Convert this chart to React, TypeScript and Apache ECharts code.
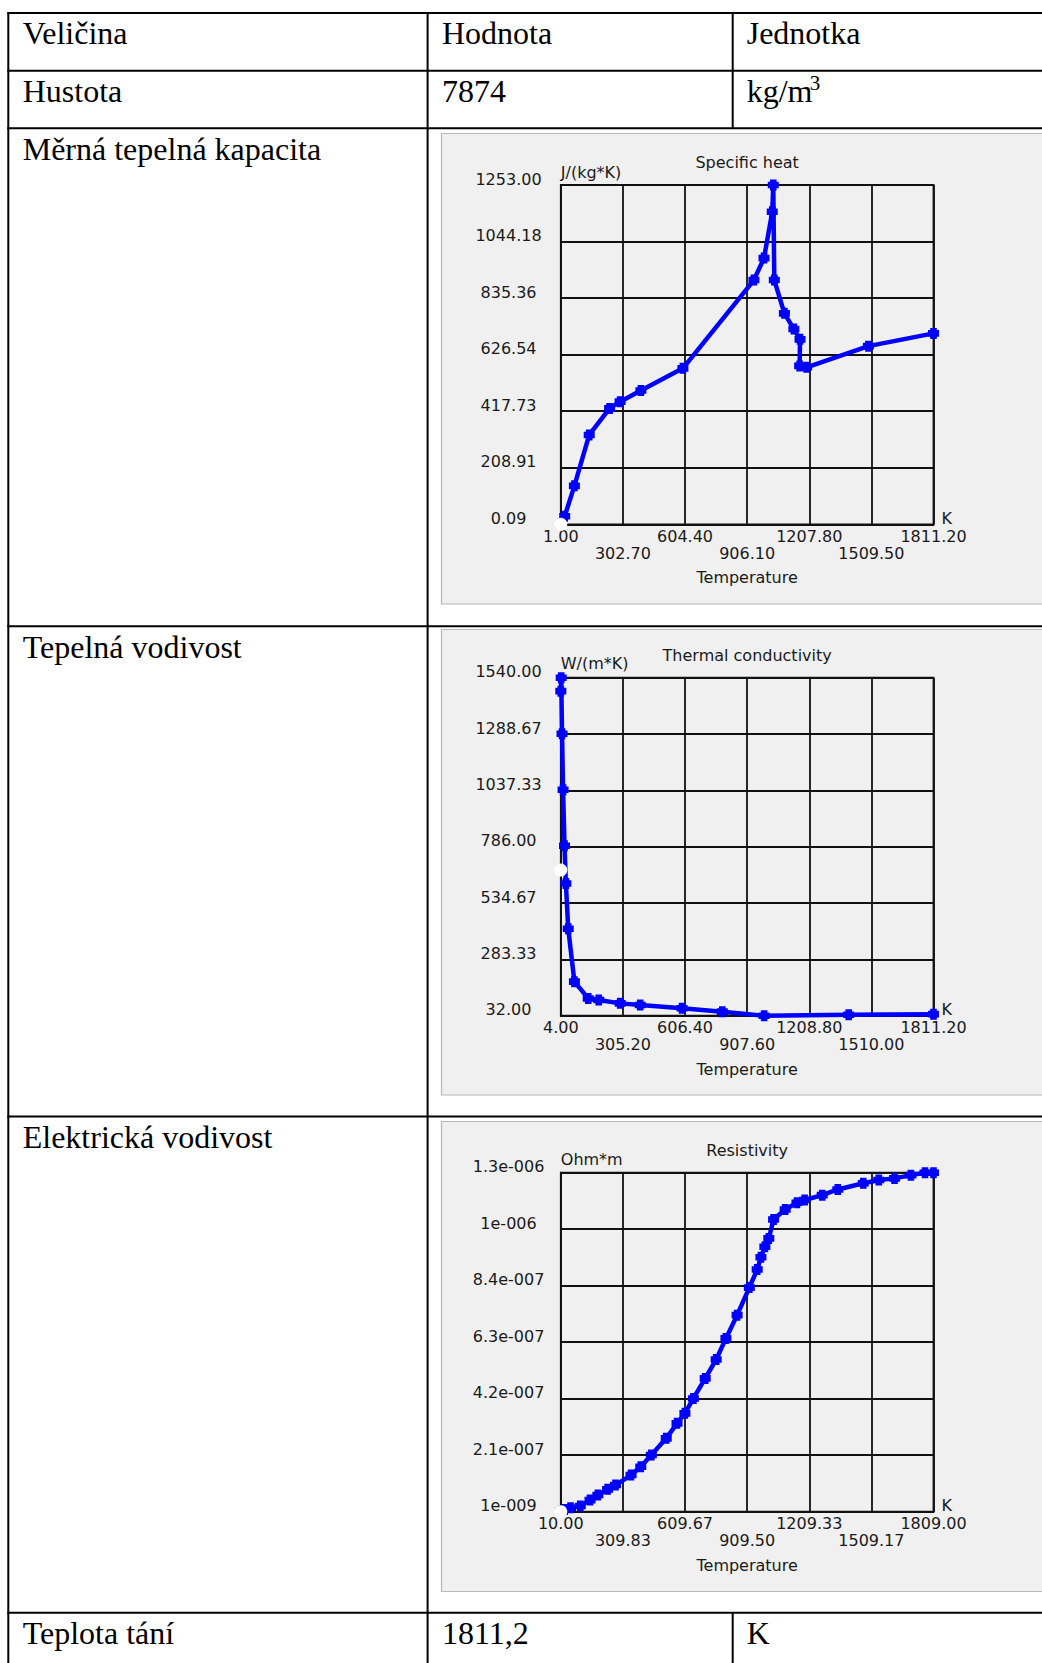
import React, { useEffect, useRef } from 'react';
import * as echarts from 'echarts';

// ---------- Table texts ----------
const tableHeader = ['Veličina', 'Hodnota', 'Jednotka'];
const rowLabels = ['Hustota', 'Měrná tepelná kapacita', 'Tepelná vodivost', 'Elektrická vodivost', 'Teplota tání'];
const densityValue = '7874';
const densityUnit = 'kg/m';
const densityUnitSup = '3';
const meltingValue = '1811,2';
const meltingUnit = 'K';

// ---------- Specific heat ----------
const cpTemperature = [1, 20, 67, 139, 238, 289, 390, 594, 939, 988, 1028, 1033, 1038, 1087, 1133, 1163, 1161, 1195, 1495, 1811.2];
const cpValues = [1, 30, 142, 330, 428, 453, 494, 576, 902, 983, 1154, 1253, 902, 779, 721, 683, 585, 580, 658, 705];
const cpXTicks = [1, 302.7, 604.4, 906.1, 1207.8, 1509.5, 1811.2];
const cpXLabels = ['1.00', '302.70', '604.40', '906.10', '1207.80', '1509.50', '1811.20'];
const cpYTicks = [0.09, 208.91, 417.73, 626.54, 835.36, 1044.18, 1253];
const cpYLabels = ['0.09', '208.91', '417.73', '626.54', '835.36', '1044.18', '1253.00'];
const cpMarker = [1, 0.09];

// ---------- Thermal conductivity ----------
const kTemperature = [4, 6, 10, 15, 22, 28.6, 40, 70, 137, 188, 292, 389, 592, 787, 990, 1400, 1811.2];
const kValues = [1480, 1540, 1290, 1040, 790, 622, 420, 184, 109, 102, 87, 80, 65, 50, 32, 36, 39];
const kXTicks = [4, 305.2, 606.4, 907.6, 1208.8, 1510, 1811.2];
const kXLabels = ['4.00', '305.20', '606.40', '907.60', '1208.80', '1510.00', '1811.20'];
const kYTicks = [32, 283.33, 534.67, 786, 1037.33, 1288.67, 1540];
const kYLabels = ['32.00', '283.33', '534.67', '786.00', '1037.33', '1288.67', '1540.00'];
const kMarker = [4, 682];

// ---------- Resistivity ----------
const rhoTemperature = [10, 29, 57, 104, 151, 189, 236, 274, 349, 396, 447, 519, 571, 609, 650, 707, 760, 807, 861, 920, 958, 976, 995, 1014, 1037, 1093, 1150, 1187, 1272, 1347, 1470, 1545, 1621, 1700, 1768, 1809];
const rhoValues = [3e-9, 9.6e-9, 1.58e-8, 2.2e-8, 4.4e-8, 6.3e-8, 8.36e-8, 9.96e-8, 1.366e-7, 1.675e-7, 2.106e-7, 2.723e-7, 3.278e-7, 3.648e-7, 4.2e-7, 4.94e-7, 5.64e-7, 6.42e-7, 7.28e-7, 8.3e-7, 8.97e-7, 9.42e-7, 9.81e-7, 1.012e-6, 1.082e-6, 1.119e-6, 1.144e-6, 1.154e-6, 1.172e-6, 1.193e-6, 1.216e-6, 1.228e-6, 1.234e-6, 1.246e-6, 1.255e-6, 1.255e-6];
const rhoXTicks = [10, 309.83, 609.67, 909.5, 1209.33, 1509.17, 1809];
const rhoXLabels = ['10.00', '309.83', '609.67', '909.50', '1209.33', '1509.17', '1809.00'];
const rhoYTicks = [1e-9, 2.1e-7, 4.19e-7, 6.28e-7, 8.37e-7, 1.046e-6, 1.255e-6];
const rhoYLabels = ['1e-009', '2.1e-007', '4.2e-007', '6.3e-007', '8.4e-007', '1e-006', '1.3e-006'];
const rhoMarker = [10, 1e-9];

const chartTitles = ['Specific heat', 'Thermal conductivity', 'Resistivity'];
const chartUnits = ['J/(kg*K)', 'W/(m*K)', 'Ohm*m'];
const xName = 'Temperature';
const xUnit = 'K';

// ---------- Layout (positions only) ----------
const PLOT_LEFT = 560.8;
const PLOT_W = 372.7;
const LAYOUT = [
  { plotTop: 185, plotH: 339.3, panelTop: 133.5, panelH: 470.5, titleY: 162, unitGap: 12.5 },
  { plotTop: 677.7, plotH: 338, panelTop: 629.5, panelH: 465.5, titleY: 655, unitGap: 14 },
  { plotTop: 1172.7, plotH: 339, panelTop: 1121.5, panelH: 470, titleY: 1150.7, unitGap: 13.5 },
];
const H_LINES = [13, 70.7, 128.3, 626.3, 1116.6, 1612.8];
const COL1_X = 8.3;
const COL2_X = 427.6;
const COL3_X = 732.7;
const ROW_BASELINES = [44, 101.7, 159.3, 657.3, 1147.5, 1643.7];
const LABEL_ROW_H = 17.5;

const SANS = '"DejaVu Sans", Verdana, sans-serif';
const SERIF = '"Liberation Serif", "Times New Roman", serif';
const CHART_FONT_SIZE = 16;
const LABEL_COLOR = '#1a1a1a';
const GRID_COLOR = '#111';
const LINE_BLUE = '#0000ff';
const MARKER = 'path://M2,0H8V2H10V8H8V10H2V8H0V2H2Z';

function nearestIndex(ticks: number[], v: number) {
  let best = 0;
  for (let i = 1; i < ticks.length; i++) {
    if (Math.abs(ticks[i] - v) < Math.abs(ticks[best] - v)) best = i;
  }
  return best;
}

const chartData = [
  { xs: cpTemperature, ys: cpValues, xTicks: cpXTicks, xLabels: cpXLabels, yTicks: cpYTicks, yLabels: cpYLabels, marker: cpMarker },
  { xs: kTemperature, ys: kValues, xTicks: kXTicks, xLabels: kXLabels, yTicks: kYTicks, yLabels: kYLabels, marker: kMarker },
  { xs: rhoTemperature, ys: rhoValues, xTicks: rhoXTicks, xLabels: rhoXLabels, yTicks: rhoYTicks, yLabels: rhoYLabels, marker: rhoMarker },
];

function buildOption() {
  const grid: any[] = [];
  const xAxis: any[] = [];
  const yAxis: any[] = [];
  const series: any[] = [];
  const title: any[] = [];
  const graphic: any[] = [];

  // gray panels
  LAYOUT.forEach((l) => {
    graphic.push({
      type: 'rect',
      z: -10,
      shape: { x: 441.5, y: l.panelTop, width: 640, height: l.panelH },
      style: { fill: '#f0f0f0', stroke: '#b8b8b8', lineWidth: 1.2 },
    });
  });

  // table lines
  H_LINES.forEach((y) => {
    graphic.push({ type: 'line', z: 5, shape: { x1: 7.3, y1: y, x2: 1042, y2: y }, style: { stroke: '#000', lineWidth: 2 } });
  });
  graphic.push({ type: 'line', z: 5, shape: { x1: COL1_X, y1: 12, x2: COL1_X, y2: 1663 }, style: { stroke: '#000', lineWidth: 2 } });
  graphic.push({ type: 'line', z: 5, shape: { x1: COL2_X, y1: 12, x2: COL2_X, y2: 1663 }, style: { stroke: '#000', lineWidth: 2 } });
  graphic.push({ type: 'line', z: 5, shape: { x1: COL3_X, y1: 12, x2: COL3_X, y2: H_LINES[2] }, style: { stroke: '#000', lineWidth: 2 } });
  graphic.push({ type: 'line', z: 5, shape: { x1: COL3_X, y1: H_LINES[5], x2: COL3_X, y2: 1663 }, style: { stroke: '#000', lineWidth: 2 } });

  const serifText = (text: string, x: number, baseline: number, size = 32) => ({
    type: 'text',
    z: 5,
    style: {
      text,
      x,
      y: baseline - size * 0.3375,
      font: `${size}px ${SERIF}`,
      fill: '#000',
      align: 'left',
      verticalAlign: 'middle',
      textAlign: 'left',
      textVerticalAlign: 'middle',
    },
  });
  const cx = [COL1_X + 14.4, COL2_X + 14.4, COL3_X + 14];
  graphic.push(serifText(tableHeader[0], cx[0], ROW_BASELINES[0]));
  graphic.push(serifText(tableHeader[1], cx[1], ROW_BASELINES[0]));
  graphic.push(serifText(tableHeader[2], cx[2], ROW_BASELINES[0]));
  rowLabels.forEach((t, i) => graphic.push(serifText(t, cx[0], ROW_BASELINES[i + 1])));
  graphic.push(serifText(densityValue, cx[1], ROW_BASELINES[1]));
  graphic.push(serifText(densityUnit, cx[2], ROW_BASELINES[1]));
  graphic.push(serifText(densityUnitSup, cx[2] + 63, ROW_BASELINES[1] - 11.5, 21));
  graphic.push(serifText(meltingValue, cx[1], ROW_BASELINES[5]));
  graphic.push(serifText(meltingUnit, cx[2], ROW_BASELINES[5]));

  const textBase = { fontFamily: SANS, fontSize: CHART_FONT_SIZE, color: LABEL_COLOR };

  chartData.forEach((d, i) => {
    const l = LAYOUT[i];
    const evenTicks = d.xTicks.filter((_, k) => k % 2 === 0);
    const oddTicks = d.xTicks.filter((_, k) => k % 2 === 1);
    grid.push({
      left: PLOT_LEFT,
      top: l.plotTop,
      width: PLOT_W,
      height: l.plotH,
      show: true,
      borderColor: GRID_COLOR,
      borderWidth: 1.8,
      backgroundColor: 'transparent',
      containLabel: false,
      outerBoundsMode: 'none',
    });
    title.push({
      text: chartTitles[i],
      left: PLOT_LEFT + PLOT_W / 2,
      top: l.titleY - 8.5,
      textAlign: 'center',
      padding: 0,
      textStyle: { ...textBase, fontWeight: 'normal', lineHeight: 17 },
    });
    const xLabelFmt = (v: number) => d.xLabels[nearestIndex(d.xTicks, v)];
    const yLabelFmt = (v: number) => d.yLabels[nearestIndex(d.yTicks, v)];
    // main x axis: grid lines, first row of labels, axis title
    xAxis.push({
      gridIndex: i,
      type: 'value',
      position: 'bottom',
      min: d.xTicks[0],
      max: d.xTicks[d.xTicks.length - 1],
      name: xName,
      nameLocation: 'middle',
      nameGap: 53.4,
      nameMoveOverlap: false,
      nameTextStyle: { ...textBase, verticalAlign: 'middle' },
      axisLine: { show: true, onZero: false, lineStyle: { color: GRID_COLOR, width: 1.8 } },
      axisTick: { show: false, customValues: d.xTicks },
      axisLabel: {
        ...textBase,
        customValues: evenTicks,
        formatter: xLabelFmt,
        showMinLabel: true,
        showMaxLabel: true,
        hideOverlap: false,
        margin: 3,
        verticalAlign: 'top',
        align: 'center',
        lineHeight: LABEL_ROW_H,
      },
      splitLine: { show: true, customValues: d.xTicks, lineStyle: { color: GRID_COLOR, width: 1.8 } },
    });
    // second x axis: second row of labels and unit "K"
    xAxis.push({
      gridIndex: i,
      type: 'value',
      position: 'bottom',
      min: d.xTicks[0],
      max: d.xTicks[d.xTicks.length - 1],
      name: xUnit,
      nameLocation: 'end',
      nameGap: 8,
      nameMoveOverlap: false,
      nameTextStyle: { ...textBase, align: 'left', verticalAlign: 'bottom', lineHeight: 12 },
      axisLine: { show: false, onZero: false },
      axisTick: { show: false, customValues: oddTicks },
      axisLabel: {
        ...textBase,
        show: true,
        customValues: oddTicks,
        formatter: xLabelFmt,
        showMinLabel: true,
        showMaxLabel: true,
        hideOverlap: false,
        margin: 3 + LABEL_ROW_H,
        verticalAlign: 'top',
        align: 'center',
        lineHeight: LABEL_ROW_H,
      },
      splitLine: { show: false },
    });
    yAxis.push({
      gridIndex: i,
      type: 'value',
      min: d.yTicks[0],
      max: d.yTicks[d.yTicks.length - 1],
      name: chartUnits[i],
      nameLocation: 'end',
      nameGap: l.unitGap,
      nameMoveOverlap: false,
      nameTextStyle: { ...textBase, align: 'left', verticalAlign: 'middle' },
      axisLine: { show: true, onZero: false, lineStyle: { color: GRID_COLOR, width: 1.8 } },
      axisTick: { show: false, customValues: d.yTicks },
      axisLabel: {
        ...textBase,
        customValues: d.yTicks,
        formatter: yLabelFmt,
        showMinLabel: true,
        showMaxLabel: true,
        hideOverlap: false,
        margin: PLOT_LEFT - 508.5,
        align: 'center',
        verticalAlign: 'bottom',
        lineHeight: 12,
      },
      splitLine: { show: true, customValues: d.yTicks, lineStyle: { color: GRID_COLOR, width: 1.8 } },
    });
    series.push({
      type: 'line',
      xAxisIndex: 2 * i,
      yAxisIndex: i,
      data: d.xs.map((x, j) => [x, d.ys[j]]),
      symbol: MARKER,
      symbolSize: 11,
      showAllSymbol: true,
      clip: false,
      lineStyle: { color: LINE_BLUE, width: 4.5 },
      itemStyle: { color: LINE_BLUE, opacity: 1 },
      z: 3,
    });
    series.push({
      type: 'scatter',
      xAxisIndex: 2 * i,
      yAxisIndex: i,
      data: [d.marker],
      symbol: 'circle',
      symbolSize: 13,
      clip: false,
      itemStyle: { color: '#ffffff', opacity: 1 },
      z: 4,
    });
  });

  return {
    animation: false,
    backgroundColor: '#ffffff',
    tooltip: { show: false },
    title,
    grid,
    xAxis,
    yAxis,
    series,
    graphic: { elements: graphic },
  };
}

export default function App() {
  const ref = useRef<HTMLDivElement>(null);
  useEffect(() => {
    if (!ref.current) return;
    const chart = echarts.init(ref.current, null, { renderer: 'svg' });
    chart.setOption(buildOption() as any);
    return () => chart.dispose();
  }, []);
  return (
    <div
      ref={ref}
      style={{ position: 'absolute', left: 0, top: 0, width: 1042, height: 1663, overflow: 'hidden' }}
    />
  );
}
